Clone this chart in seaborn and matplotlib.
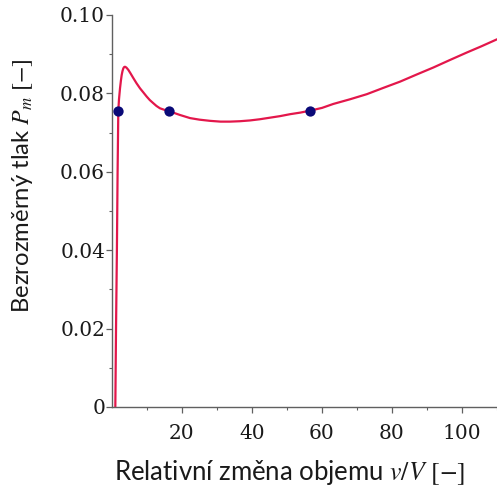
import numpy as np
import pandas as pd
import matplotlib
matplotlib.use("Agg")
import matplotlib.pyplot as plt
import seaborn as sns

# Curve values
vol_ratio = [0.95, 1.15, 1.40, 1.60, 1.80, 2.00, 2.29, 2.55, 2.77, 3.00, 3.24, 3.45,
             3.70, 4.10, 4.67, 5.30, 6.10, 7.00, 8.00, 9.00, 9.90, 10.8, 11.8, 12.7,
             13.7, 15.0, 16.3, 17.8, 19.4, 22.3, 25.0, 28.0, 31.0, 33.7, 36.5, 39.4,
             42.2, 45.1, 48.0, 50.9, 53.8, 56.6, 60.0, 63.2, 68.0, 72.8, 77.5, 82.3,
             87.0, 91.8, 96.5, 101.3, 105.5, 110.0]
pressure = [0.0, 0.020, 0.040, 0.060, 0.0755, 0.0785, 0.0813, 0.0833, 0.0847, 0.0857,
            0.0864, 0.0867, 0.0868, 0.0866, 0.0860, 0.0851, 0.0839, 0.0826, 0.0813,
            0.0802, 0.0792, 0.0783, 0.0775, 0.0768, 0.0762, 0.0758, 0.0755, 0.0750,
            0.0745, 0.0737, 0.0733, 0.0730, 0.0728, 0.0728, 0.0729, 0.0731, 0.0734,
            0.0738, 0.0742, 0.0747, 0.0751, 0.0756, 0.0763, 0.0773, 0.0785, 0.0798,
            0.0814, 0.0830, 0.0848, 0.0866, 0.0885, 0.0904, 0.0920, 0.0938]

# Highlighted points (equal pressure)
pt_vol = [1.8, 16.3, 56.6]
pt_pressure = [0.0755, 0.0755, 0.0755]

x_ticks = [20, 40, 60, 80, 100]
x_tick_labels = ["20", "40", "60", "80", "100"]
y_ticks = [0, 0.02, 0.04, 0.06, 0.08, 0.10]
y_tick_labels = ["0", "0.02", "0.04", "0.06", "0.08", "0.10"]

sns.set_style("ticks")
plt.rcParams["font.family"] = ["DejaVu Serif"]
plt.rcParams["mathtext.fontset"] = "stix"

fig = plt.figure(figsize=(4.97, 4.88), dpi=100)
ax = fig.add_axes([112 / 497, 1 - 407 / 488, 385 / 497, 392 / 488])

curve = pd.DataFrame({"x": vol_ratio, "y": pressure})
pts = pd.DataFrame({"x": pt_vol, "y": pt_pressure})

sns.lineplot(data=curve, x="x", y="y", ax=ax, color="#E3174B", linewidth=1.6,
             sort=False)
sns.scatterplot(data=pts, x="x", y="y", ax=ax, color="#0A0A78", s=55,
                edgecolor="#0A0A78", linewidth=0, zorder=5, clip_on=False)

ax.set_xlim(0, 110)
ax.set_ylim(0, 0.10)
ax.set_xticks(x_ticks)
ax.set_xticklabels(x_tick_labels)
ax.set_xticks([10, 30, 50, 70, 90, 110], minor=True)
ax.set_yticks(y_ticks)
ax.set_yticklabels(y_tick_labels)
ax.set_yticks([0.01, 0.03, 0.05, 0.07, 0.09], minor=True)

for s in ["top", "right"]:
    ax.spines[s].set_visible(False)
for s in ["left", "bottom"]:
    ax.spines[s].set_color("#606060")
    ax.spines[s].set_linewidth(1.0)

ax.tick_params(axis="both", which="major", length=4, width=0.9, color="#606060",
               labelsize=14.5, labelcolor="#1a1a1a")
ax.tick_params(axis="both", which="minor", length=2.5, width=0.8, color="#606060")
ax.tick_params(axis="x", which="major", pad=8)
ax.tick_params(axis="y", which="major", pad=1)

ax.set_xlabel("Relativní změna objemu $v/V$ $[-]$", fontsize=18.5,
              family=["Lato", "DejaVu Sans"], color="#1a1a1a")
ax.set_ylabel("Bezrozměrný tlak $P_m$ $[-]$", fontsize=17.2,
              family=["Lato", "DejaVu Sans"], color="#1a1a1a")
ax.xaxis.label.set_va("center")
ax.yaxis.label.set_va("center")
ax.xaxis.set_label_coords(0.462, -0.166)
ax.yaxis.set_label_coords(-0.232, 0.564)

fig.savefig("out.png", dpi=100)
